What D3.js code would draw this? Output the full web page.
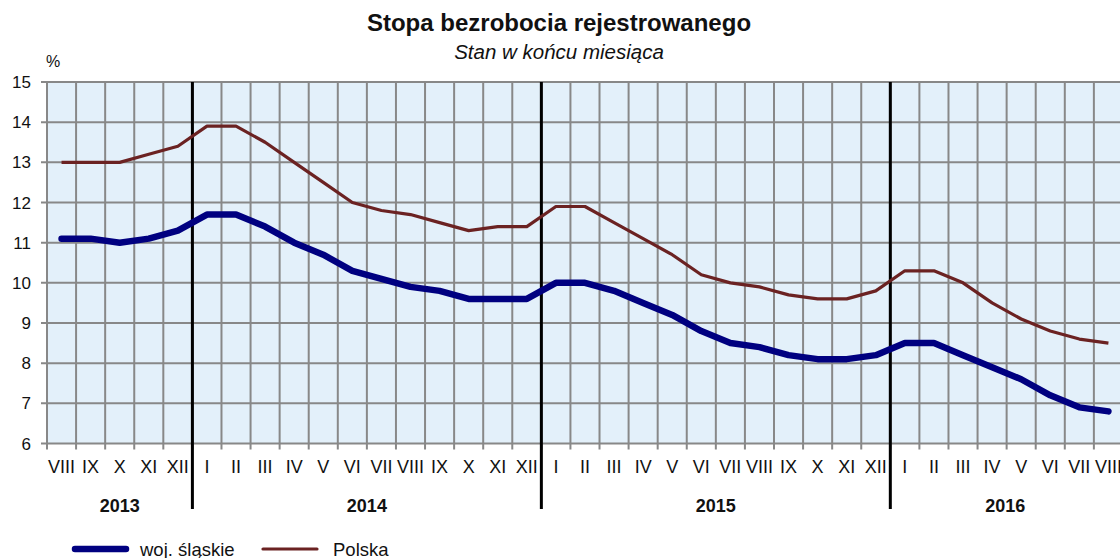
<!DOCTYPE html>
<html>
<head>
<meta charset="utf-8">
<script src="https://cdn.jsdelivr.net/npm/d3@7"></script>
<style>
  html, body { margin: 0; padding: 0; background: #fff; }
  svg { display: block; font-family: "Liberation Sans", Arial, sans-serif; }
</style>
</head>
<body>
<svg id="chart" width="1120" height="558"></svg>
<script>
// ---- data ----
const months = ["VIII","IX","X","XI","XII",
  "I","II","III","IV","V","VI","VII","VIII","IX","X","XI","XII",
  "I","II","III","IV","V","VI","VII","VIII","IX","X","XI","XII",
  "I","II","III","IV","V","VI","VII","VIII"];
const years = ["2013","2014","2015","2016"];
const yearStart = [0, 5, 17, 29];
const yearEnd = [5, 17, 29, 37];
const slaskie = [11.1, 11.1, 11.0, 11.1, 11.3,
  11.7, 11.7, 11.4, 11.0, 10.7, 10.3, 10.1, 9.9, 9.8, 9.6, 9.6, 9.6,
  10.0, 10.0, 9.8, 9.5, 9.2, 8.8, 8.5, 8.4, 8.2, 8.1, 8.1, 8.2,
  8.5, 8.5, 8.2, 7.9, 7.6, 7.2, 6.9, 6.8];
const polska = [13.0, 13.0, 13.0, 13.2, 13.4,
  13.9, 13.9, 13.5, 13.0, 12.5, 12.0, 11.8, 11.7, 11.5, 11.3, 11.4, 11.4,
  11.9, 11.9, 11.5, 11.1, 10.7, 10.2, 10.0, 9.9, 9.7, 9.6, 9.6, 9.8,
  10.3, 10.3, 10.0, 9.5, 9.1, 8.8, 8.6, 8.5];
const yTicks = [6, 7, 8, 9, 10, 11, 12, 13, 14, 15];
const seriesNames = ["woj. śląskie", "Polska"];

// ---- layout ----
const svg = d3.select("#chart");
const pLeft = 47, pTop = 82, pBottom = 443.5;
const bandW = 29.08;
const idx = d3.range(months.length);
const x = d3.scaleBand().domain(idx).range([pLeft, pLeft + bandW * months.length]).paddingInner(0).paddingOuter(0);
const y = d3.scaleLinear().domain([6, 15]).range([pBottom, pTop]);
const cx = i => x(i) + x.bandwidth() / 2;
const pRight = x.range()[1];

// background
svg.append("rect").attr("x", pLeft).attr("y", pTop)
  .attr("width", pRight - pLeft).attr("height", pBottom - pTop)
  .attr("fill", "#E3F0FA");

// grid: horizontal
svg.append("g").selectAll("line").data(yTicks).join("line")
  .attr("x1", pLeft - 6).attr("x2", pRight)
  .attr("y1", d => y(d)).attr("y2", d => y(d))
  .attr("stroke", "#888").attr("stroke-width", 2);

// grid: vertical (band boundaries) + ticks below
const bounds = d3.range(months.length + 1);
svg.append("g").selectAll("line").data(bounds).join("line")
  .attr("x1", d => pLeft + d * bandW).attr("x2", d => pLeft + d * bandW)
  .attr("y1", pTop).attr("y2", pBottom + 6)
  .attr("stroke", "#888").attr("stroke-width", 2);

// y labels
svg.append("g").selectAll("text").data(yTicks).join("text")
  .attr("x", 31).attr("y", d => y(d)).attr("dy", "0.36em")
  .attr("text-anchor", "end").attr("font-size", 17).attr("fill", "#111")
  .text(d => d);
svg.append("text").attr("x", 46).attr("y", 67).attr("font-size", 16).attr("fill", "#111").text("%");

// x month labels
svg.append("g").selectAll("text").data(idx).join("text")
  .attr("x", d => cx(d)).attr("y", 472.5)
  .attr("text-anchor", "middle").attr("font-size", 18).attr("fill", "#111")
  .text(d => months[d]);

// year separators
svg.append("g").selectAll("line").data(yearStart.slice(1)).join("line")
  .attr("x1", d => x(d)).attr("x2", d => x(d))
  .attr("y1", pTop).attr("y2", 509)
  .attr("stroke", "#000").attr("stroke-width", 3);

// year labels
svg.append("g").selectAll("text").data(years).join("text")
  .attr("x", (d, i) => (x(yearStart[i]) + Math.min(1120, pLeft + yearEnd[i] * bandW)) / 2)
  .attr("y", 511.5)
  .attr("text-anchor", "middle").attr("font-size", 18).attr("font-weight", "bold").attr("fill", "#111")
  .text(d => d);

// lines
const line = d3.line().x((d, i) => cx(i)).y(d => y(d));
svg.append("path").datum(polska).attr("d", line)
  .attr("fill", "none").attr("stroke", "#6B2222").attr("stroke-width", 3.2)
  .attr("stroke-linejoin", "round");
svg.append("path").datum(slaskie).attr("d", line)
  .attr("fill", "none").attr("stroke", "#000080").attr("stroke-width", 6.5)
  .attr("stroke-linejoin", "round").attr("stroke-linecap", "round");

// title
svg.append("text").attr("x", 559).attr("y", 31).attr("text-anchor", "middle")
  .attr("font-size", 24).attr("font-weight", "bold").attr("fill", "#111")
  .text("Stopa bezrobocia rejestrowanego");
svg.append("text").attr("x", 559).attr("y", 59).attr("text-anchor", "middle")
  .attr("font-size", 20.5).attr("font-style", "italic").attr("fill", "#111")
  .text("Stan w końcu miesiąca");

// legend
const leg = [
  {name: seriesNames[0], color: "#000080", w: 6.5, x1: 75, x2: 126, tx: 140},
  {name: seriesNames[1], color: "#6B2222", w: 3.2, x1: 263, x2: 317, tx: 333}
];
const lg = svg.append("g");
leg.forEach(l => {
  lg.append("line").attr("x1", l.x1).attr("x2", l.x2).attr("y1", 549).attr("y2", 549)
    .attr("stroke", l.color).attr("stroke-width", l.w).attr("stroke-linecap", "round");
  lg.append("text").attr("x", l.tx).attr("y", 555.5).attr("font-size", 18.5).attr("fill", "#111").text(l.name);
});
</script>
</body>
</html>
